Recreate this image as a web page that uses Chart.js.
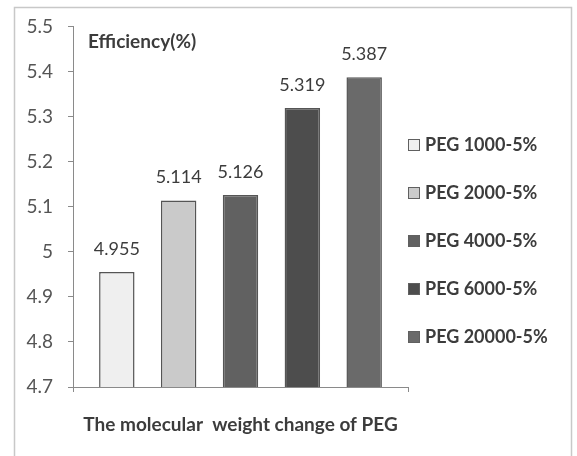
<!DOCTYPE html>
<html>
<head>
<meta charset="utf-8">
<script src="https://cdn.jsdelivr.net/npm/chart.js@4.4.1/dist/chart.umd.min.js"></script>
<style>
  html, body { margin: 0; padding: 0; background: #ffffff; }
  #wrap { width: 577px; height: 456px; position: relative; }
</style>
</head>
<body>
<div id="wrap"><canvas id="c" width="577" height="456"></canvas></div>
<script>
// Series: one bar per PEG molecular weight
const seriesNames = ['PEG 1000-5%', 'PEG 2000-5%', 'PEG 4000-5%', 'PEG 6000-5%', 'PEG 20000-5%'];
const efficiency = [4.955, 5.114, 5.126, 5.319, 5.387];
const yTickLabels = ['4.7', '4.8', '4.9', '5', '5.1', '5.2', '5.3', '5.4', '5.5'];
const yTitle = 'Efficiency(%)';
const xTitle = 'The molecular  weight change of PEG';

const fills = ['#efefef', '#cacaca', '#616161', '#4d4d4d', '#6a6a6a'];
const FONT = 'Lato, "Liberation Sans", sans-serif';
const TEXT = '#3c3c3c';

const yMin = parseFloat(yTickLabels[0]);
const yMax = parseFloat(yTickLabels[yTickLabels.length - 1]);

// Frame, value labels, in-plot title, axis title and legend
const decorations = {
  id: 'decorations',
  beforeDraw(chart) {
    const ctx = chart.ctx;
    ctx.save();
    ctx.strokeStyle = '#c8c8c8';
    ctx.lineWidth = 1.5;
    ctx.strokeRect(14.5, 7.5, 557, 470);
    ctx.restore();
  },
  afterDatasetsDraw(chart) {
    const ctx = chart.ctx;
    const area = chart.chartArea;
    ctx.save();
    // value labels above each bar
    ctx.font = '18px ' + FONT;
    ctx.fillStyle = TEXT;
    ctx.textAlign = 'center';
    ctx.textBaseline = 'middle';
    chart.data.datasets.forEach((ds, i) => {
      const bar = chart.getDatasetMeta(i).data[0];
      ctx.fillText(ds.data[0].toFixed(3), bar.x, bar.y - 23);
    });
    // y title inside the plot
    ctx.font = 'bold 19px ' + FONT;
    ctx.textAlign = 'left';
    ctx.fillText(yTitle, 88, 42);
    // x title
    ctx.font = 'bold 19px ' + FONT;
    ctx.textAlign = 'center';
    ctx.fillText(xTitle, (area.left + area.right) / 2, 425);
    // legend
    ctx.font = 'bold 18px ' + FONT;
    ctx.textAlign = 'left';
    chart.data.datasets.forEach((ds, i) => {
      const y = 145 + i * 48;
      ctx.fillStyle = ds.backgroundColor;
      ctx.fillRect(408.5, y - 5.5, 11, 11);
      ctx.strokeStyle = '#606060';
      ctx.lineWidth = 1;
      ctx.strokeRect(408.5, y - 5.5, 11, 11);
      ctx.fillStyle = TEXT;
      ctx.fillText(ds.label, 425, y);
    });
    ctx.restore();
  }
};

new Chart(document.getElementById('c'), {
  type: 'bar',
  data: {
    labels: [''],
    datasets: seriesNames.map((name, i) => ({
      label: name,
      data: [efficiency[i]],
      backgroundColor: fills[i],
      borderColor: '#555555',
      borderWidth: 1.5,
      categoryPercentage: 0.923,
      barPercentage: 0.573
    }))
  },
  options: {
    responsive: false,
    animation: false,
    events: [],
    layout: { padding: { top: 25, right: 169, left: 0, bottom: 0 } },
    plugins: { legend: { display: false }, tooltip: { enabled: false }, title: { display: false } },
    scales: {
      x: {
        offset: true,
        grid: { display: true, drawOnChartArea: false, drawTicks: true, tickLength: 5, offset: true, color: '#8a8a8a' },
        border: { color: '#8a8a8a', width: 1 },
        ticks: { display: false },
        afterFit(scale) { scale.height = 69; }
      },
      y: {
        min: yMin,
        max: yMax,
        grid: { drawOnChartArea: false, drawTicks: true, tickLength: 5, color: '#8a8a8a' },
        border: { color: '#8a8a8a', width: 1 },
        ticks: {
          stepSize: 0.1,
          padding: 15,
          color: '#555555',
          font: { family: FONT, size: 19 },
          callback(value) {
            const idx = Math.round((value - yMin) * 10);
            return yTickLabels[idx];
          }
        },
        afterFit(scale) { scale.width = 73; }
      }
    }
  },
  plugins: [decorations]
});
</script>
</body>
</html>
